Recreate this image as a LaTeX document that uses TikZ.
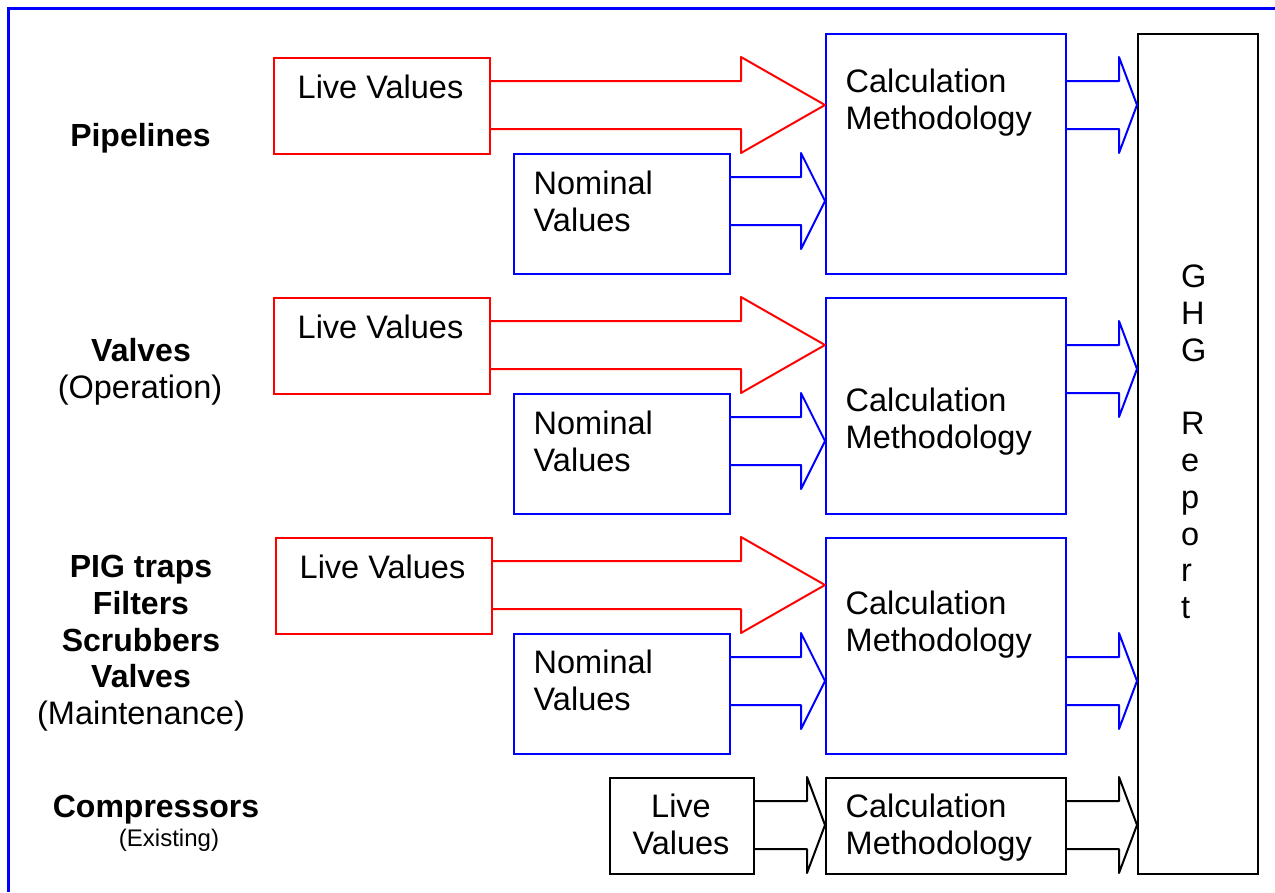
\documentclass[tikz,border=0pt]{standalone}
\usepackage{fontspec}
\setmainfont{Liberation Sans}
\usetikzlibrary{calc}
\tikzset{
 box/.style={draw, line width=2pt, inner sep=0pt, anchor=north west},
 redbox/.style={box, draw=red},
 bluebox/.style={box, draw=blue},
 blackbox/.style={box, draw=black},
 lbl/.style={inner sep=0pt, font=\fontsize{32.5}{36.8}\selectfont},
 lw/.style={lbl, anchor=base west},
 lc/.style={lbl, anchor=base},
 lb/.style={inner sep=0pt, anchor=base, font=\fontsize{32}{36.8}\selectfont\bfseries},
 ls/.style={inner sep=0pt, anchor=base, font=\fontsize{24}{28}\selectfont},
 redarr/.style={draw=red, line width=2pt, line join=round},
 bluearr/.style={draw=blue, line width=2pt, line join=round},
 blackarr/.style={draw=black, line width=2pt, line join=round},
}
\newcommand\blockarrow[4]{%
 \coordinate (bat) at (#3.west |- #2);
 \draw[#1] ($(#2)+(0,-24)$) -- ($(bat)+(-#4,-24)$) -- ($(bat)+(-#4,-48)$) -- (bat)
   -- ($(bat)+(-#4,48)$) -- ($(bat)+(-#4,24)$) -- ($(#2)+(0,24)$);}
\begin{document}
\begin{tikzpicture}[x=1pt,y=-1pt]
\useasboundingbox (0,0) rectangle (1275,892);
\draw[blue, line width=3pt] (1275,8) -- (8,8) -- (8,892);

% GHG report
\node[blackbox, minimum width=120pt, minimum height=840pt] (ghg) at (1137,33) {};
\node[lbl, anchor=base west, align=left] (ghgt) at (1181,618.7) {G\\H\\G\\[36.8pt]R\\e\\p\\o\\r\\t};

% row 1
\node[redbox, minimum width=216pt, minimum height=96pt] (lv1) at (273,57) {};
\node[bluebox, minimum width=216pt, minimum height=120pt] (nv1) at (513,153) {};
\node[bluebox, minimum width=240pt, minimum height=240pt] (cm1) at (825,33) {};
% row 2
\node[redbox, minimum width=216pt, minimum height=96pt] (lv2) at (273,297) {};
\node[bluebox, minimum width=216pt, minimum height=120pt] (nv2) at (513,393) {};
\node[bluebox, minimum width=240pt, minimum height=216pt] (cm2) at (825,297) {};
% row 3
\node[redbox, minimum width=216pt, minimum height=96pt] (lv3) at (275,537) {};
\node[bluebox, minimum width=216pt, minimum height=120pt] (nv3) at (513,633) {};
\node[bluebox, minimum width=240pt, minimum height=216pt] (cm3) at (825,537) {};
% row 4
\node[blackbox, minimum width=144pt, minimum height=96pt] (lv4) at (609,777) {};
\node[blackbox, minimum width=240pt, minimum height=96pt] (cm4) at (825,777) {};

% arrow anchor points
\coordinate (a1) at ($(lv1.north east)+(0,48)$);
\coordinate (b1) at ($(nv1.north east)+(0,48)$);
\coordinate (c1) at ($(cm1.north east)+(0,72)$);
\coordinate (a2) at ($(lv2.north east)+(0,48)$);
\coordinate (b2) at ($(nv2.north east)+(0,48)$);
\coordinate (c2) at ($(cm2.north east)+(0,72)$);
\coordinate (a3) at ($(lv3.north east)+(0,48)$);
\coordinate (b3) at ($(nv3.north east)+(0,48)$);
\coordinate (c3) at ($(cm3.north east)+(0,144)$);
\coordinate (a4) at ($(lv4.north east)+(0,48)$);
\coordinate (c4) at ($(cm4.north east)+(0,48)$);

\blockarrow{redarr}{a1}{cm1}{84}
\blockarrow{bluearr}{b1}{cm1}{24}
\blockarrow{bluearr}{c1}{ghg}{18}
\blockarrow{redarr}{a2}{cm2}{84}
\blockarrow{bluearr}{b2}{cm2}{24}
\blockarrow{bluearr}{c2}{ghg}{18}
\blockarrow{redarr}{a3}{cm3}{84}
\blockarrow{bluearr}{b3}{cm3}{24}
\blockarrow{bluearr}{c3}{ghg}{18}
\blockarrow{blackarr}{a4}{cm4}{18}
\blockarrow{blackarr}{c4}{ghg}{18}

% box texts
\node[lw] (tlv1) at (297.5,98.5) {Live Values};
\node[lw] (tnv1a) at (533.5,194.5) {Nominal};
\node[lw] (tnv1b) at (533.5,231.3) {Values};
\node[lw] (tcm1a) at (845.5,92.5) {Calculation};
\node[lw] (tcm1b) at (845.5,129.3) {Methodology};

\node[lw] (tlv2) at (297.5,338) {Live Values};
\node[lw] (tnv2a) at (533.5,434.5) {Nominal};
\node[lw] (tnv2b) at (533.5,471.3) {Values};
\node[lw] (tcm2a) at (845.5,411.5) {Calculation};
\node[lw] (tcm2b) at (845.5,448.3) {Methodology};

\node[lw] (tlv3) at (299.5,578) {Live Values};
\node[lw] (tnv3a) at (533.5,673.5) {Nominal};
\node[lw] (tnv3b) at (533.5,710.3) {Values};
\node[lw] (tcm3a) at (845.5,614.5) {Calculation};
\node[lw] (tcm3b) at (845.5,651.3) {Methodology};

\node[lc] (tlv4a) at (681,817.5) {Live};
\node[lc] (tlv4b) at (681,854.3) {Values};
\node[lw] (tcm4a) at (845.5,817.5) {Calculation};
\node[lw] (tcm4b) at (845.5,854.3) {Methodology};

% left labels
\node[lb] (lp) at (140.5,146.5) {Pipelines};
\node[lb] (lv) at (141,361.5) {Valves};
\node[lc] (lvo) at (140,398.3) {(Operation)};
\node[lb] (lpig) at (141,577.5) {PIG traps};
\node[lb] (lfil) at (141,614.3) {Filters};
\node[lb] (lscr) at (141,651.1) {Scrubbers};
\node[lb] (lval) at (141,687.9) {Valves};
\node[lc] (lmnt) at (141,724.7) {(Maintenance)};
\node[lb] (lcmp) at (156,817.5) {Compressors};
\node[ls] (lexi) at (169,846.5) {(Existing)};
\end{tikzpicture}
\end{document}
